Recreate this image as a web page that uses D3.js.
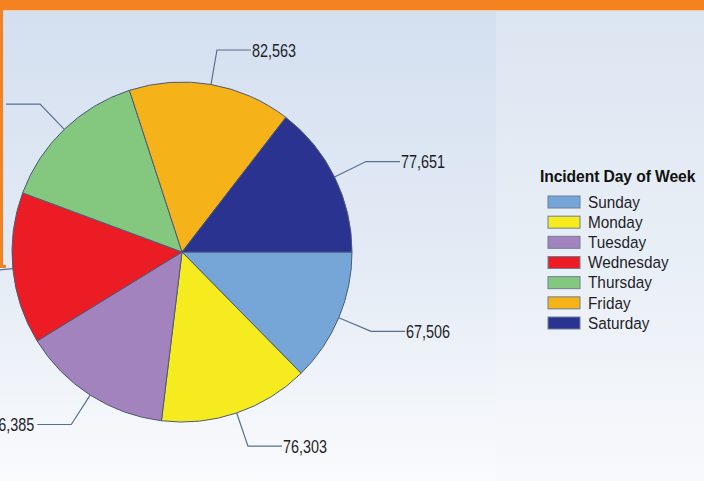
<!DOCTYPE html>
<html>
<head>
<meta charset="utf-8">
<script src="https://cdn.jsdelivr.net/npm/d3@7"></script>
<style>
  html, body { margin: 0; padding: 0; overflow: hidden; }
  svg { display: block; font-family: "Liberation Sans", Arial, sans-serif; }
</style>
</head>
<body>
<svg id="chart" width="704" height="481"></svg>
<script>
// chart data
var days = ["Sunday", "Monday", "Tuesday", "Wednesday", "Thursday", "Friday", "Saturday"];
var counts = [67506, 76303, 76385, 77000, 76600, 82563, 77651];
var colors = ["#76a5d8", "#f5eb1e", "#a283be", "#ec1c24", "#84c77e", "#f6b319", "#2b3390"];
var legendTitle = "Incident Day of Week";

var width = 704, height = 481;
var cx = 182, cy = 252, radius = 170;

var svg = d3.select("#chart");
var defs = svg.append("defs");

// background panels
var g1 = defs.append("linearGradient").attr("id", "bgLeft")
    .attr("x1", 0).attr("y1", 0).attr("x2", 0).attr("y2", 1);
g1.append("stop").attr("offset", "0%").attr("stop-color", "#d3dff0");
g1.append("stop").attr("offset", "55%").attr("stop-color", "#e4ebf5");
g1.append("stop").attr("offset", "100%").attr("stop-color", "#fafbfd");
var g2 = defs.append("linearGradient").attr("id", "bgRight")
    .attr("x1", 0).attr("y1", 0).attr("x2", 0).attr("y2", 1);
g2.append("stop").attr("offset", "0%").attr("stop-color", "#dbe5f1");
g2.append("stop").attr("offset", "55%").attr("stop-color", "#e9eff6");
g2.append("stop").attr("offset", "100%").attr("stop-color", "#f8f9fc");

svg.append("rect").attr("x", 0).attr("y", 0).attr("width", 496).attr("height", height)
    .attr("fill", "url(#bgLeft)");
svg.append("rect").attr("x", 496).attr("y", 0).attr("width", width - 496).attr("height", height)
    .attr("fill", "url(#bgRight)");

// pie, starting at 3 o'clock and going clockwise
var data = days.map(function(d, i) { return {day: d, value: counts[i], color: colors[i]}; });
var pie = d3.pie().value(function(d) { return d.value; }).sort(null)
    .startAngle(Math.PI / 2).endAngle(Math.PI / 2 + 2 * Math.PI);
var arc = d3.arc().innerRadius(0).outerRadius(radius);
var arcs = pie(data);

var pieG = svg.append("g").attr("transform", "translate(" + cx + "," + cy + ")");
pieG.selectAll("path.slice")
    .data(arcs)
  .enter().append("path")
    .attr("class", "slice")
    .attr("d", arc)
    .attr("fill", function(d) { return d.data.color; })
    .attr("stroke", "#4b5a78")
    .attr("stroke-width", 1);

// leader lines + value labels (left ones run off the cropped edge)
var fmt = d3.format(",");
var elbowR = 205, tail = 34;
arcs.forEach(function(a) {
  var mid = (a.startAngle + a.endAngle) / 2;   // d3 angle, 0 = 12 o'clock
  var sx = Math.sin(mid), sy = -Math.cos(mid);
  var p0 = [radius * sx, radius * sy];
  var p1 = [elbowR * sx, elbowR * sy];
  var right = sx >= 0;
  var p2 = [p1[0] + (right ? tail : -tail), p1[1]];
  pieG.append("polyline")
      .attr("points", [p0, p1, p2].map(function(p) { return p.join(","); }).join(" "))
      .attr("fill", "none")
      .attr("stroke", "#5a6e8e")
      .attr("stroke-width", 1.2);
  pieG.append("g")
      .attr("transform", "translate(" + (p2[0] + (right ? 1 : -3)) + "," + p2[1] + ") scale(0.8,1)")
    .append("text")
      .attr("text-anchor", right ? "start" : "end")
      .attr("dominant-baseline", "central")
      .attr("font-size", 18)
      .attr("fill", "#1e1e28")
      .text(fmt(a.data.value));
});

// legend
var leg = svg.append("g").attr("transform", "translate(540,176)");
leg.append("g").attr("transform", "scale(0.98,1)")
  .append("text")
    .attr("x", 0).attr("y", 0)
    .attr("dominant-baseline", "central")
    .attr("font-size", 16)
    .attr("font-weight", "bold")
    .attr("letter-spacing", -0.1)
    .attr("fill", "#111")
    .text(legendTitle);

var rowY = d3.scalePoint().domain(days).range([26, 147]);
var item = leg.selectAll("g.item")
    .data(data)
  .enter().append("g")
    .attr("class", "item")
    .attr("transform", function(d) { return "translate(0," + rowY(d.day) + ")"; });
item.append("rect")
    .attr("x", 8).attr("y", -6)
    .attr("width", 32).attr("height", 12)
    .attr("fill", function(d) { return d.color; })
    .attr("stroke", "#6f7f97")
    .attr("stroke-width", 1);
item.append("g").attr("transform", "translate(48,0) scale(0.93,1)")
  .append("text")
    .attr("dominant-baseline", "central")
    .attr("font-size", 16.5)
    .attr("fill", "#1e1e28")
    .text(function(d) { return d.day; });

// orange frame bits over the top and left edge
svg.append("rect").attr("x", 0).attr("y", 0).attr("width", width).attr("height", 10)
    .attr("fill", "#f58220");
svg.append("rect").attr("x", 0).attr("y", 10).attr("width", width).attr("height", 1)
    .attr("fill", "#f3c7a2");
svg.append("rect").attr("x", 0).attr("y", 0).attr("width", 3).attr("height", 268)
    .attr("fill", "#f58220");
svg.append("rect").attr("x", 0).attr("y", 265).attr("width", 6).attr("height", 3)
    .attr("fill", "#f58220");
</script>
</body>
</html>
